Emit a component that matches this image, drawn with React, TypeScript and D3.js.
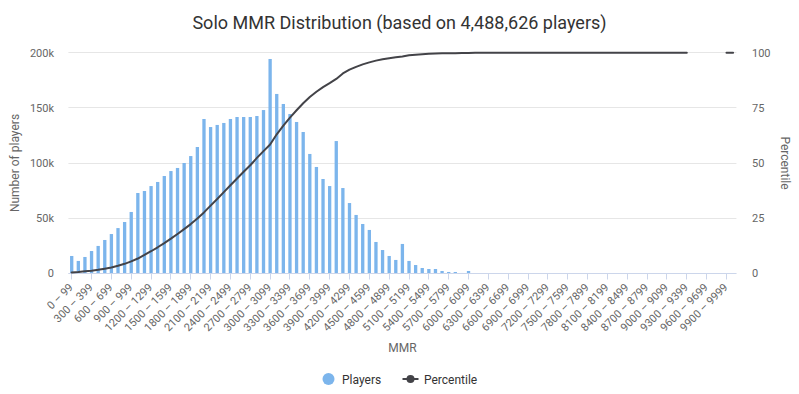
import React from 'react';
import * as d3 from 'd3';

// 100-MMR buckets, the last one is an unlabeled overflow bucket
const categories = d3.range(101).map((i) => (i < 100 ? `${i * 100} – ${i * 100 + 99}` : '10000+'));

const players = [
  15700, 11200, 14800, 20200, 24800, 30200, 35600, 41000, 46500, 55600,
  72800, 74600, 79100, 82800, 88200, 92700, 95500, 100000, 106300, 114500,
  139900, 132600, 134500, 136300, 139900, 141700, 141700, 141700, 142600, 148000,
  194300, 162600, 153500, 144400, 137200, 128100, 108200, 96400, 85500, 79100,
  119900, 77300, 63700, 52900, 44700, 39300, 28400, 21100, 15700, 12100,
  26600, 11200, 7500, 4800, 3900, 3900, 2100, 1200, 1200, 300,
  2100, 0, 0, 0, 0, 0, 0, 0, 0, 0,
  0, 0, 0, 0, 0, 0, 0, 0, 0, 0,
  0, 0, 0, 0, 0, 0, 0, 0, 0, 0,
  0, 0, 0, 0, 0, 0, 0, 0, 0, 0,
  0,
];

const percentile: (number | null)[] = [
  0.4, 0.6, 0.9, 1.2, 1.6, 2.1, 2.6, 3.4, 4.3, 5.4,
  6.7, 8.3, 10.0, 11.8, 13.7, 15.7, 17.8, 20.0, 22.3, 24.8,
  27.6, 30.7, 33.7, 36.8, 39.9, 43.0, 46.0, 49.0, 52.3, 55.4,
  58.4, 63.0, 66.9, 70.6, 73.9, 77.1, 79.9, 82.3, 84.4, 86.2,
  88.1, 90.6, 92.3, 93.6, 94.7, 95.6, 96.4, 97.0, 97.5, 97.9,
  98.3, 98.8, 99.1, 99.3, 99.5, 99.6, 99.7, 99.75, 99.8, 99.85,
  99.9, 100, 100, 100, 100, 100, 100, 100, 100, 100,
  100, 100, 100, 100, 100, 100, 100, 100, 100, 100,
  100, 100, 100, 100, 100, 100, 100, 100, 100, 100,
  100, 100, 100, 100, null, null, null, null, null, 100,
  100,
];

const playerTicks = [0, 50000, 100000, 150000, 200000];
const percentTicks = [0, 25, 50, 75, 100];

const title = 'Solo MMR Distribution (based on 4,488,626 players)';

const W = 799;
const H = 394;
const left = 68.4;
const right = 736.4;
const top = 52.7;
const bottom = 273.3;
const font = 'Roboto, "Noto Sans", sans-serif';

const crisp = (v: number) => Math.floor(v) + 0.5;

const App = () => {
  const x = d3.scaleBand<string>().domain(categories).range([left, right]).padding(0);
  const yL = d3.scaleLinear().domain([0, 200000]).range([bottom, top]);
  const yR = d3.scaleLinear().domain([0, 100]).range([bottom, top]);
  const bw = x.bandwidth();
  const barW = bw * 0.5;
  const cx = (i: number) => (x(categories[i]) as number) + bw / 2;

  const line = d3
    .line<number | null>()
    .defined((d) => d != null)
    .x((_d, i) => cx(i))
    .y((d) => yR(d as number));

  const labelIdx = d3.range(0, 100, 3);

  return (
    <svg width={W} height={H} style={{ position: 'absolute', left: 0, top: 0, background: '#fff' }} fontFamily={font}>
      <rect width={W} height={H} fill="#fff" />
      <text x={W / 2} y={29} textAnchor="middle" fontSize={18} fill="#333333">
        {title}
      </text>

      {/* grid */}
      {playerTicks.map((t) => (
        <line key={t} x1={left} x2={right} y1={crisp(yL(t))} y2={crisp(yL(t))} stroke="#e6e6e6" />
      ))}

      {/* left axis labels */}
      {playerTicks.map((t) => (
        <text key={t} x={54} y={yL(t) + 4} textAnchor="end" fontSize={11} fill="#666666">
          {t === 0 ? '0' : `${t / 1000}k`}
        </text>
      ))}
      <text
        transform={`translate(18.5, ${(top + bottom) / 2}) rotate(-90)`}
        textAnchor="middle"
        fontSize={12}
        fill="#666666"
      >
        Number of players
      </text>

      {/* right axis labels */}
      {percentTicks.map((t) => (
        <text key={t} x={752} y={yR(t) + 4} fontSize={11} fill="#666666">
          {t}
        </text>
      ))}
      <text
        transform={`translate(781, ${(top + bottom) / 2}) rotate(90)`}
        textAnchor="middle"
        fontSize={12}
        fill="#666666"
      >
        Percentile
      </text>

      {/* bars */}
      {players.map((v, i) => (
        <rect
          key={i}
          x={cx(i) - barW / 2}
          y={yL(v)}
          width={barW}
          height={bottom - yL(v)}
          fill="#7cb5ec"
        />
      ))}

      {/* x axis */}
      <line x1={left} x2={right} y1={crisp(bottom)} y2={crisp(bottom)} stroke="#ccd6eb" />
      {labelIdx.map((i) => (
        <line key={i} x1={crisp(cx(i))} x2={crisp(cx(i))} y1={crisp(bottom)} y2={crisp(bottom) + 6} stroke="#ccd6eb" />
      ))}
      {labelIdx.map((i) => (
        <text
          key={i}
          transform={`translate(${cx(i) + 2}, 288) rotate(-45)`}
          textAnchor="end"
          fontSize={11}
          fill="#666666"
        >
          {categories[i]}
        </text>
      ))}
      <text x={(left + right) / 2} y={352} textAnchor="middle" fontSize={12} fill="#666666">
        MMR
      </text>

      {/* percentile line */}
      <path
        d={line(percentile) ?? ''}
        fill="none"
        stroke="#434348"
        strokeWidth={2}
        strokeLinejoin="round"
        strokeLinecap="round"
      />

      {/* legend */}
      <circle cx={328.5} cy={379} r={6} fill="#7cb5ec" />
      <text x={342} y={383.5} fontSize={12} fill="#333333">
        Players
      </text>
      <line x1={402.5} x2={418.5} y1={379} y2={379} stroke="#434348" strokeWidth={2} />
      <circle cx={410.5} cy={379} r={4} fill="#434348" />
      <text x={424} y={383.5} fontSize={12} fill="#333333">
        Percentile
      </text>
    </svg>
  );
};

export default App;
